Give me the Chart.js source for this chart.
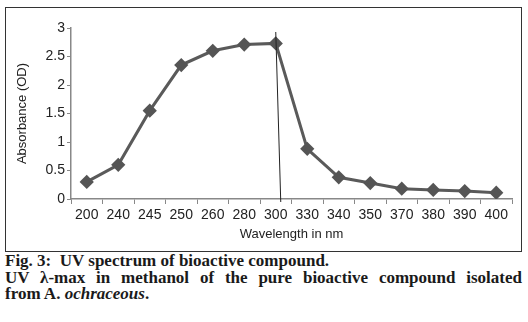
<!DOCTYPE html>
<html>
<head>
<meta charset="utf-8">
<script src="https://cdn.jsdelivr.net/npm/chart.js@4.4.1/dist/chart.umd.min.js"></script>
<style>
  body { margin: 0; background: #fff; width: 528px; height: 322px; position: relative; overflow: hidden; }
  #box { position: absolute; left: 5px; top: 7px; width: 515px; height: 243px; border: 1px solid #333; }
  #caption { position: absolute; left: 5px; top: 253px; width: 517px; font-family: "Liberation Serif", "DejaVu Serif", serif;
             font-weight: bold; font-size: 17px; line-height: 16.5px; color: #1a1a1a; }
  #caption .just { text-align: justify; text-align-last: justify; }
  #caption i { font-style: italic; }
</style>
</head>
<body>
<div id="box"><canvas id="uvChart" width="515" height="243"></canvas></div>
<div id="caption">
  <div>Fig. 3:&nbsp; UV spectrum of bioactive compound.</div>
  <div class="just">UV λ-max in methanol of the pure bioactive compound isolated</div>
  <div>from A. <i>ochraceous</i>.</div>
</div>
<script>
const longitudes = ['200', '240', '245', '250', '260', '280', '300', '330', '340', '350', '370', '380', '390', '400'];
const absorbancia = [0.3, 0.6, 1.55, 2.35, 2.6, 2.71, 2.73, 0.88, 0.38, 0.28, 0.18, 0.16, 0.14, 0.11];
const yTicks = [0, 0.5, 1, 1.5, 2, 2.5, 3];
const lambdaMax = '300';

// Línea vertical que marca el lambda máximo
const lineaMax = {
    id: 'lineaMax',
    afterDatasetsDraw(chart) {
        const { ctx, scales: { x, y } } = chart;
        const px = x.getPixelForValue(longitudes.indexOf(lambdaMax));
        ctx.save();
        ctx.strokeStyle = '#222';
        ctx.lineWidth = 1;
        ctx.beginPath();
        ctx.moveTo(px, y.getPixelForValue(2.93));
        ctx.lineTo(px + 5, y.bottom + 3);
        ctx.stroke();
        ctx.restore();
    }
};

const ctx = document.getElementById('uvChart').getContext('2d');
const uvChart = new Chart(ctx, {
    type: 'line',
    data: {
        labels: longitudes,
        datasets: [{
            data: absorbancia,
            borderColor: '#5a5a5a',
            borderWidth: 3,
            pointStyle: 'rectRot',
            pointRadius: 5,
            pointBackgroundColor: '#555',
            pointBorderColor: '#555',
            tension: 0
        }]
    },
    options: {
        responsive: false,
        animation: false,
        layout: { padding: { top: 20, right: 9, left: 0, bottom: 0 } },
        plugins: { legend: { display: false }, tooltip: { enabled: false } },
        scales: {
            x: {
                offset: true,
                grid: { drawOnChartArea: false, tickLength: 5, color: '#888', offset: true },
                border: { color: '#888', width: 1.5 },
                ticks: { color: '#222', padding: 3, maxRotation: 0, autoSkip: false, font: { family: 'Liberation Sans', size: 14 } },
                title: { display: true, text: 'Wavelength in nm', color: '#222', padding: { top: 0, bottom: 9 }, font: { family: 'Liberation Sans', size: 13 } },
                afterFit: s => { s.height = 52; }
            },
            y: {
                min: 0,
                max: 3,
                afterBuildTicks: s => { s.ticks = yTicks.map(v => ({ value: v })); },
                grid: { drawOnChartArea: false, tickLength: 4, color: '#888' },
                border: { color: '#888', width: 1.5 },
                ticks: { color: '#222', padding: 2, callback: v => String(v), font: { family: 'Liberation Sans', size: 14 } },
                title: { display: true, text: 'Absorbance (OD)', color: '#222', padding: { top: 9, bottom: 0 }, font: { family: 'Liberation Sans', size: 13 } },
                afterFit: s => { s.width = 65; }
            }
        }
    },
    plugins: [lineaMax]
});
</script>
</body>
</html>
